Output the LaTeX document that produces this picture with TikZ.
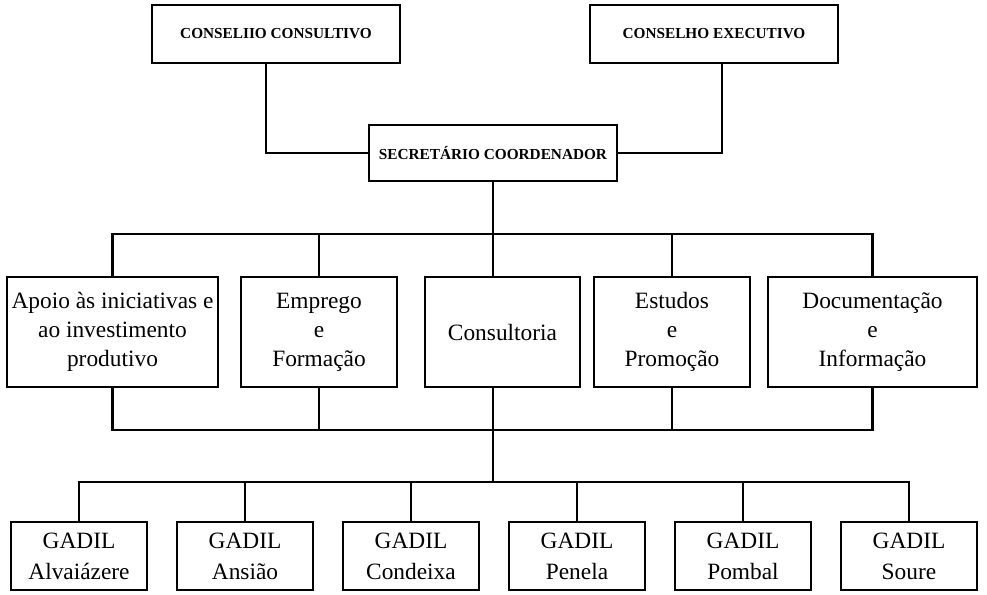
\documentclass[tikz,border=0pt]{standalone}
\usepackage{fontspec}
\setmainfont{Liberation Serif}
\usetikzlibrary{positioning}

\begin{document}
\begin{tikzpicture}[line width=1.3pt,
  topbox/.style={draw, outer sep=0pt, minimum width=4.96cm, minimum height=1.16cm,
    font=\bfseries\fontsize{8.7}{10}\selectfont},
  unitbox/.style={draw, outer sep=0pt, inner xsep=1pt, minimum height=2.2cm, align=center,
    font=\fontsize{13.3}{16.5}\selectfont},
  gadilbox/.style={draw, outer sep=0pt, minimum width=2.72cm, minimum height=1.36cm, align=center,
    font=\fontsize{13.3}{17.5}\selectfont}]
 \useasboundingbox (0,0) rectangle (19.74,-11.88);
 % direction
 \node [topbox, minimum height=1.12cm] (sc) at (9.86,-3.06) {SECRETÁRIO COORDENADOR};
 \node [topbox, above=1.24cm of sc, xshift=-4.34cm] (cc) {CONSELIIO CONSULTIVO};
 \node [topbox, right=3.8cm of cc] (ce) {CONSELHO EXECUTIVO};
 % units
 \node [unitbox, minimum width=3.1cm, below=1.92cm of sc, xshift=0.19cm] (b3) {Consultoria};
 \node [unitbox, minimum width=3.12cm, left=0.56cm of b3] (b2) {Emprego\\e\\Formação};
 \node [unitbox, minimum width=4.22cm, left=0.46cm of b2] (b1) {Apoio às iniciativas e\\ao investimento\\produtivo};
 \node [unitbox, minimum width=3.12cm, right=0.28cm of b3] (b4) {Estudos\\e\\Promoção};
 \node [unitbox, minimum width=4.18cm, right=0.36cm of b4] (b5) {Documentação\\e\\Informação};
 % local offices
 \node [gadilbox, below=2.7cm of b1, xshift=-0.67cm] (g1) {GADIL\\Alvaiázere};
 \node [gadilbox, right=0.6cm of g1] (g2) {GADIL\\Ansião};
 \node [gadilbox, right=0.6cm of g2] (g3) {GADIL\\Condeixa};
 \node [gadilbox, right=0.6cm of g3] (g4) {GADIL\\Penela};
 \node [gadilbox, right=0.6cm of g4] (g5) {GADIL\\Pombal};
 \node [gadilbox, right=0.6cm of g5] (g6) {GADIL\\Soure};
 \coordinate [above=0.8cm of g1] (gbus);
 % connectors
 \draw ([xshift=-2mm]cc.south) |- (sc.west);
 \draw ([xshift=1.6mm]ce.south) |- (sc.east);
 \draw (sc.south) -- (sc.south |- b3.north);
 \draw (b1.north) -- ++(0,0.86) -| (b5.north);
 \draw (b2.north) -- ++(0,0.86);
 \draw (b4.north) -- ++(0,0.86);
 \draw (b1.south) -- ++(0,-0.86) -| (b5.south);
 \draw (b2.south) -- ++(0,-0.86);
 \draw (b4.south) -- ++(0,-0.86);
 \draw (sc.south |- b3.south) -- (sc.south |- gbus);
 \draw (g1.north) -- (gbus) -| (g6.north);
 \draw (g2.north) -- (g2.north |- gbus);
 \draw (g3.north) -- (g3.north |- gbus);
 \draw (g4.north) -- (g4.north |- gbus);
 \draw (g5.north) -- (g5.north |- gbus);
\end{tikzpicture}
\end{document}
